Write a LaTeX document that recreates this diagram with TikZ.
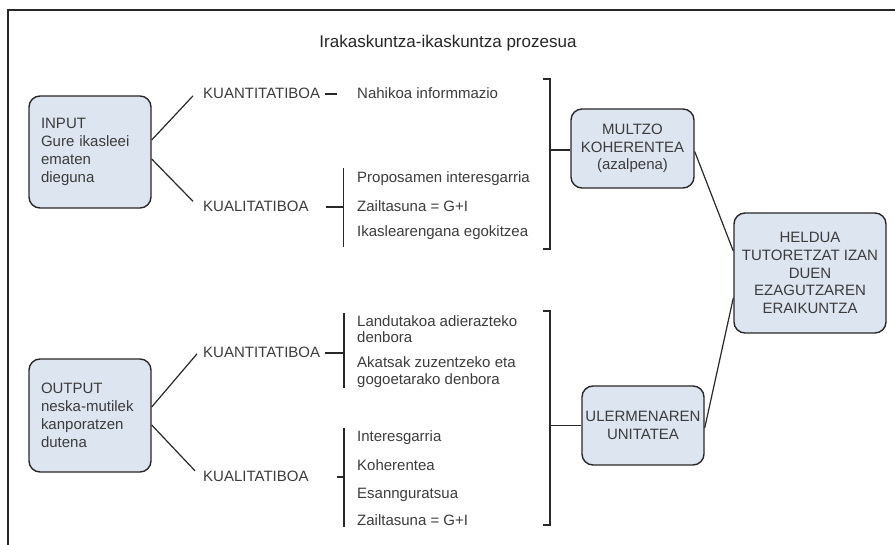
\documentclass[tikz,border=0pt]{standalone}
\usepackage{fontspec}
\setmainfont{Liberation Sans}
\definecolor{boxfill}{RGB}{221,229,240}
\definecolor{inkline}{RGB}{40,40,40}
\definecolor{inktext}{RGB}{60,60,60}
\begin{document}
\begin{tikzpicture}[x=1pt,y=-1pt,
  txt/.style={inner sep=0pt,anchor=base west,text=inktext,font=\fontsize{15}{17.8}\selectfont},
  conn/.style={draw=inkline,line width=1.2pt},
  frameline/.style={draw=inkline,line width=1.6pt},
  roundbox/.style={draw=inkline,line width=1.4pt,fill=boxfill,rounded corners=11pt,
    text=inktext,font=\fontsize{15}{17.8}\selectfont,inner sep=0pt},
  leftbox/.style={roundbox,minimum width=122pt,minimum height=112pt,align=left,text width=98pt},
  midbox/.style={roundbox,align=center}]
\useasboundingbox (0,0) rectangle (895,545);

% open frame: top and left edges
\draw[frameline] (8,545) -- (8,10) -- (895,10);

% title
\node[inner sep=0pt,anchor=base,text=black!85,font=\fontsize{17}{20}\selectfont] (title) at (448,48)
  {Irakaskuntza-ikaskuntza prozesua};

% main boxes
\node[leftbox] (inp) at (90,152) {INPUT\\Gure ikasleei\\ematen\\dieguna};
\node[leftbox,minimum height=113pt] (out) at (90,415.5) {OUTPUT\\neska-mutilek\\kanporatzen\\dutena};
\node[midbox,minimum width=123pt,minimum height=79pt] (mul) at (632.5,148.5) {MULTZO\\KOHERENTEA\\(azalpena)};
\node[midbox,minimum width=122pt,minimum height=79pt] (ule) at (643,425.5) {ULERMENAREN\\UNITATEA};
\node[midbox,minimum width=152pt,minimum height=120pt] (hel) at (810,273)
  {HELDUA\\TUTORETZAT IZAN\\DUEN\\EZAGUTZAREN\\ERAIKUNTZA};

% category labels
\node[txt] (kuan1) at (203,99) {KUANTITATIBOA};
\node[txt] (kual1) at (203,211.5) {KUALITATIBOA};
\node[txt] (kuan2) at (203,358) {KUANTITATIBOA};
\node[txt] (kual2) at (203,482) {KUALITATIBOA};

% item lists
\node[txt] (i1) at (357,99) {Nahikoa informmazio};
\node[txt] (i2) at (357,183) {Proposamen interesgarria};
\node[txt] (i3) at (357,212) {Zailtasuna = G+I};
\node[txt] (i4) at (357,237) {Ikaslearengana egokitzea};
\node[txt] (i5) at (357,326.5) {Landutakoa adierazteko};
\node[txt] (i6) at (357,343) {denbora};
\node[txt] (i7) at (357,368) {Akatsak zuzentzeko eta};
\node[txt] (i8) at (357,384.5) {gogoetarako denbora};
\node[txt] (i9) at (357,442) {Interesgarria};
\node[txt] (i10) at (357,471) {Koherentea};
\node[txt] (i11) at (357,498) {Esannguratsua};
\node[txt] (i12) at (357,525) {Zailtasuna = G+I};

% bracket coordinates
\coordinate (d1) at (337,94);
\coordinate (b1t) at (343.5,168); \coordinate (b1b) at (343.5,247); \coordinate (b1m) at (343.5,207);
\coordinate (b2t) at (344,313); \coordinate (b2b) at (344,388); \coordinate (b2m) at (344,353);
\coordinate (b3t) at (344,428); \coordinate (b3b) at (344,527); \coordinate (b3m) at (344,477);
\coordinate (r1t) at (550,79); \coordinate (r1b) at (550,249); \coordinate (r1m) at (550,150);
\coordinate (r2t) at (550,311); \coordinate (r2b) at (550,525); \coordinate (r2m) at (550,425.5);

% connectors from the boxes to the categories
\draw[conn] ([yshift=12pt]inp.east) -- ([xshift=-10pt,yshift=-2pt]kuan1.west);
\draw[conn] ([yshift=-7pt]inp.east) -- ([xshift=-10pt,yshift=5pt]kual1.west);
\draw[conn] ([yshift=8.5pt]out.east) -- ([xshift=-6pt,yshift=-1pt]kuan2.west);
\draw[conn] ([yshift=-9.5pt]out.east) -- ([xshift=-8pt,yshift=6pt]kual2.west);

% categories to their lists
\draw[conn] (d1 -| kuan1.east) ++(5,0) -- (d1);
\draw[conn] (b1m -| kual1.east) ++(17,0) -- (b1m);
\draw[conn] (b1t) -- (b1b);
\draw[conn] (b2m -| kuan2.east) ++(5,0) -- (b2m);
\draw[conn] (b2t) -- (b2b);
\draw[conn] (b3m -| kual2.east) ++(28,0) -- (b3m);
\draw[conn] (b3t) -- (b3b);

% right-hand brackets
\draw[conn] ([xshift=-7pt]r1t) -- (r1t) -- (r1b) -- ([xshift=-7pt]r1b);
\draw[conn] (r1m) -- (mul.west |- r1m);
\draw[conn] ([xshift=-7pt]r2t) -- (r2t) -- (r2b) -- ([xshift=-7pt]r2b);
\draw[conn] (r2m) -- (ule.west |- r2m);

% towards the final box
\draw[conn] ([yshift=-3pt]mul.east) -- ([yshift=22pt]hel.west);
\draw[conn] ([yshift=-2.5pt]ule.east) -- ([yshift=-25pt]hel.west);
\end{tikzpicture}
\end{document}
